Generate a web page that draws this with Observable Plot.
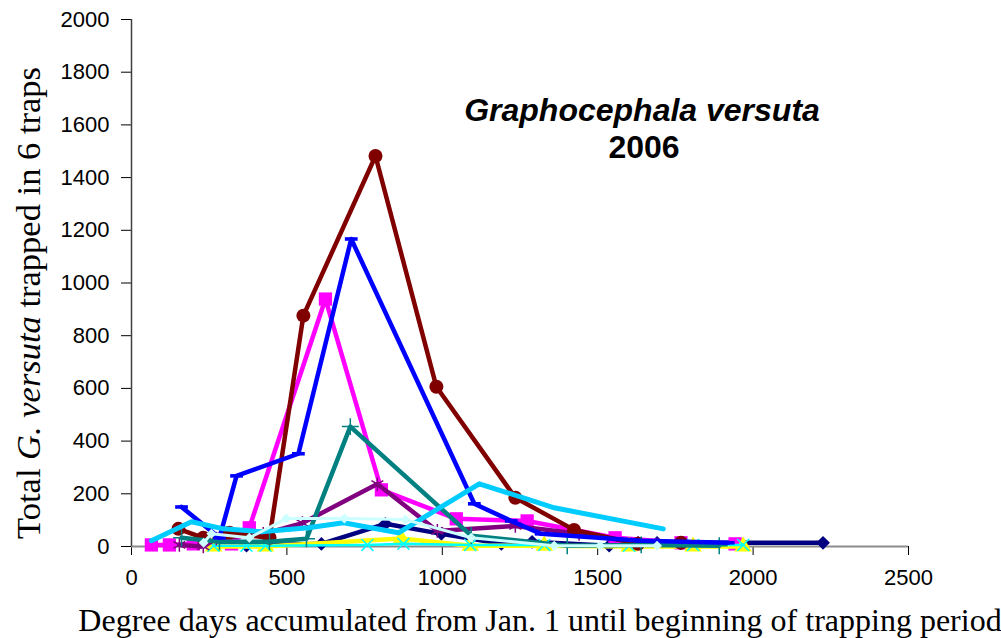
<!DOCTYPE html>
<html><head><meta charset="utf-8">
<script src="https://cdn.jsdelivr.net/npm/d3@7"></script>
<script src="https://cdn.jsdelivr.net/npm/@observablehq/plot@0.6"></script>
<style>body{margin:0;background:#fff}</style>
</head><body><div id="chart"></div>
<script>
// ---- data (degree days, total trapped) ----
const navyX = [280, 370, 611, 817, 997, 1190, 1289, 1537, 1691, 2225];
const navyY = [14, 3, 10, 86, 48, 10, 18, 3, 14, 14];
const magentaX = [64, 122, 199, 322, 379, 624, 804, 1045, 1273, 1556, 1768, 1942];
const magentaY = [6, 6, 10, 10, 71, 939, 215, 105, 97, 33, 14, 10];
const yellowX = [264, 431, 868, 1090, 1328, 1601, 1807, 1968];
const yellowY = [0, 0, 30, 3, 3, 0, 0, 0];
const cyanX = [264, 370, 431, 759, 875, 1090, 1328, 1601, 1807, 1968];
const cyanY = [3, 3, 3, 6, 10, 6, 6, 3, 6, 6];
const purpleX = [154, 231, 273, 424, 550, 791, 984, 1235, 1440, 1630, 1768];
const purpleY = [6, 0, 30, 48, 89, 237, 59, 78, 48, 14, 14];
const maroonX = [151, 231, 315, 444, 553, 785, 981, 1235, 1424, 1630, 1768];
const maroonY = [67, 33, 52, 33, 876, 1482, 606, 185, 63, 10, 14];
const tealX = [161, 283, 444, 563, 704, 1093, 1402, 1640, 1891];
const tealY = [33, 18, 18, 29, 455, 41, 3, 6, 3];
const blueX = [161, 283, 338, 537, 707, 1103, 1222, 1318, 1640, 1920];
const blueY = [150, 33, 268, 352, 1167, 162, 97, 48, 22, 14];
const skyX = [64, 193, 296, 418, 569, 682, 859, 1119, 1360, 1711];
const skyY = [22, 94, 67, 56, 71, 90, 52, 238, 147, 67];
const lightX = [232, 257, 379, 498, 685, 881, 1093, 1360, 1508, 1691];
const lightY = [14, 48, 33, 106, 106, 102, 33, 3, 3, 3];

const xTicks = [0, 500, 1000, 1500, 2000, 2500];
const yTicks = [0, 200, 400, 600, 800, 1000, 1200, 1400, 1600, 1800, 2000];

const pts = (xs, ys) => xs.map((x, i) => ({x, y: ys[i]}));

const dash = {draw(ctx, size) { const w = Math.sqrt(size) * 0.9; ctx.moveTo(-w, -1.8); ctx.lineTo(w, -1.8); ctx.lineTo(w, 1.8); ctx.lineTo(-w, 1.8); ctx.closePath(); }};

const series = [
  {xs: navyX, ys: navyY, color: "#000080", symbol: "diamond2", r: 6.2, filled: true, w: 4.5},
  {xs: magentaX, ys: magentaY, color: "#FF00FF", symbol: "square", r: 7.5, filled: true, w: 4.5},
  {xs: yellowX, ys: yellowY, color: "#FFFF00", symbol: "triangle", r: 6.5, filled: true, w: 4.5},
  {xs: cyanX, ys: cyanY, color: "#00FFFF", symbol: "times", r: 5.5, filled: false, w: 2.5},
  {xs: purpleX, ys: purpleY, color: "#800080", symbol: "asterisk", r: 6.5, filled: false, w: 4.5},
  {xs: maroonX, ys: maroonY, color: "#800000", symbol: "circle", r: 7, filled: true, w: 4.5},
  {xs: tealX, ys: tealY, color: "#008080", symbol: "plus", r: 5.5, filled: false, w: 4.5},
  {xs: blueX, ys: blueY, color: "#0000FF", symbol: dash, r: 4, filled: true, w: 4.5},
  {xs: skyX, ys: skyY, color: "#00CCFF", symbol: null, r: 0, filled: true, w: 5},
  {xs: lightX, ys: lightY, color: "#CCFFFF", symbol: "diamond2", r: 4.5, filled: true, w: 3}
];

const marks = [];
for (const s of series) {
  const d = pts(s.xs, s.ys);
  marks.push(Plot.line(d, {x: "x", y: "y", stroke: s.color, strokeWidth: s.w}));
  if (s.symbol) {
    marks.push(Plot.dot(d, s.filled
      ? {x: "x", y: "y", symbol: s.symbol, r: s.r, fill: s.color, stroke: "none"}
      : {x: "x", y: "y", symbol: s.symbol, r: s.r, stroke: s.color, strokeWidth: 1.5, fill: "none"}));
  }
}

const chart = Plot.plot({
  width: 1001,
  height: 638,
  marginLeft: 131,
  marginRight: 93,
  marginTop: 19,
  marginBottom: 92,
  style: {fontFamily: "'Liberation Sans', Arial, sans-serif", fontSize: "22px", background: "#fff", color: "#000"},
  x: {domain: [0, 2500]},
  y: {domain: [0, 2000]},
  marks: [
    Plot.axisX({ticks: xTicks, tickSize: 9, tickPadding: 14, tickFormat: d => String(d), label: null, stroke: "#000"}),
    Plot.axisY({ticks: yTicks, tickSize: 10, tickPadding: 12, tickFormat: d => String(d), label: null, stroke: "#000"}),
    Plot.ruleY([0], {stroke: "#8c8c8c", strokeWidth: 2}),
    Plot.ruleX([0], {stroke: "#404040", strokeWidth: 1.5}),
    ...marks,
    Plot.text(["Graphocephala versuta"], {frameAnchor: "top", dx: 122, dy: 101, lineAnchor: "bottom", fontSize: 32, fontWeight: "bold", fontStyle: "italic", fill: "#000"}),
    Plot.text(["2006"], {frameAnchor: "top", dx: 124, dy: 138, lineAnchor: "bottom", fontSize: 32, fontWeight: "bold", fill: "#000"}),
    Plot.text(["Degree days accumulated from Jan. 1 until beginning of trapping period"], {frameAnchor: "bottom", dx: 20, dy: 84, lineAnchor: "bottom", fontSize: 32, fontFamily: "'Liberation Serif', 'Times New Roman', serif", fill: "#000"}),
    Plot.text(["Total G. versuta trapped in 6 traps"], {frameAnchor: "left", textAnchor: "middle", dx: -103, dy: 20, rotate: -90, fontSize: 34.5, fontFamily: "'Liberation Serif', 'Times New Roman', serif", fill: "#000"})
  ]
});

document.getElementById("chart").appendChild(chart);

// italic parts of the y-axis title
d3.select(chart).selectAll("text").each(function() {
  if (this.textContent === "Total G. versuta trapped in 6 traps") {
    const t = d3.select(this);
    t.text(null);
    t.append("tspan").text("Total ");
    t.append("tspan").attr("font-style", "italic").text("G.");
    t.append("tspan").text(" ");
    t.append("tspan").attr("font-style", "italic").text("versuta");
    t.append("tspan").text(" trapped in 6 traps");
  }
});
</script>
</body></html>
